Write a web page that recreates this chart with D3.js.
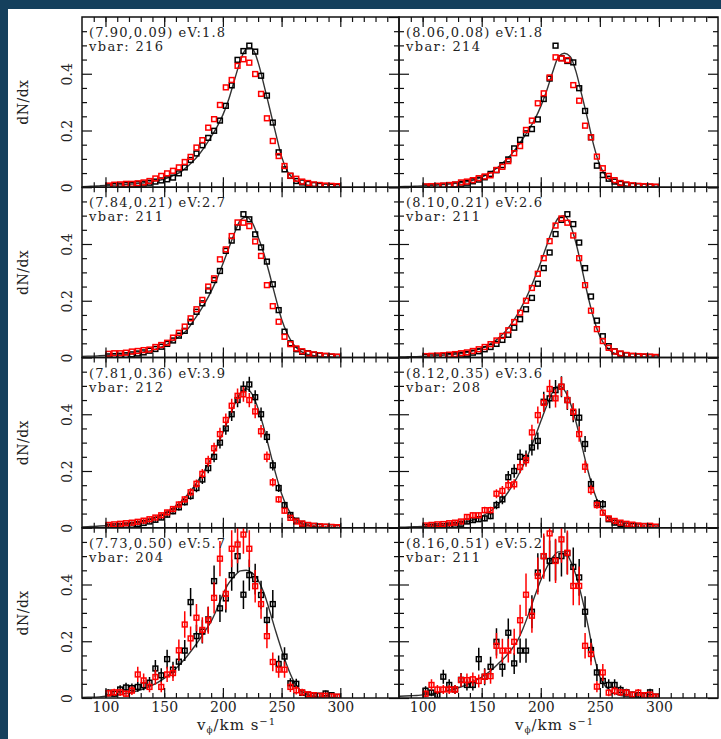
<!DOCTYPE html>
<html>
<head>
<meta charset="utf-8">
<script src="https://cdn.jsdelivr.net/npm/d3@7"></script>
<style>
  body { margin: 0; background: #15405d; }
  svg text { font-family: "DejaVu Serif", serif; fill: #222; }
</style>
</head>
<body>
<div id="chart"></div>
<script>
// velocity bin centres for the binned points (km/s)
const bins = [102.5, 107.5, 112.5, 117.5, 122.5, 127.5, 132.5, 137.5, 142.5, 147.5,
  152.5, 157.5, 162.5, 167.5, 172.5, 177.5, 182.5, 187.5, 192.5, 197.5,
  202.5, 207.5, 212.5, 217.5, 222.5, 227.5, 232.5, 237.5, 242.5, 247.5,
  252.5, 257.5, 262.5, 267.5, 272.5, 277.5, 282.5, 287.5, 292.5, 297.5];
// velocities where the model curve is sampled
const vcurve = [80, 85, 90, 95, 100, 105, 110, 115, 120, 125, 130, 135, 140, 145, 150,
  155, 160, 165, 170, 175, 180, 185, 190, 195, 200, 205, 210, 215, 220, 225,
  230, 235, 240, 245, 250, 255, 260, 265, 270, 275, 280, 285, 290, 295, 300];

const xMinorTicks = [90, 100, 110, 120, 130, 140, 150, 160, 170, 180, 190, 200, 210, 220, 230, 240, 250, 260, 270, 280, 290, 300, 310, 320, 330, 340];
const xMajorTicks = [100, 150, 200, 250, 300];
const yMinorTicks = [0.05, 0.1, 0.15, 0.25, 0.3, 0.35, 0.45, 0.5, 0.55];
const yMajorTicks = [0, 0.2, 0.4];

const titles = ["(7.90,0.09) eV:1.8", "(8.06,0.08) eV:1.8", "(7.84,0.21) eV:2.7", "(8.10,0.21) eV:2.6",
  "(7.81,0.36) eV:3.9", "(8.12,0.35) eV:3.6", "(7.73,0.50) eV:5.7", "(8.16,0.51) eV:5.2"];
const vbars = ["vbar: 216", "vbar: 214", "vbar: 211", "vbar: 211", "vbar: 212", "vbar: 208", "vbar: 204", "vbar: 211"];

// panel 1 (7.90,0.09)
const black1 = [0.003, 0.005, 0.006, 0.008, 0.009, 0.011, 0.013, 0.016, 0.02, 0.024, 0.028, 0.034, 0.049, 0.07, 0.096, 0.119, 0.148, 0.174, 0.199, 0.235,
  0.287, 0.359, 0.449, 0.48, 0.499, 0.478, 0.393, 0.323, 0.228, 0.123, 0.063, 0.04, 0.022, 0.017, 0.012, 0.008, 0.005, 0.003, 0.002, 0.001];
const red1 = [0.006, 0.009, 0.01, 0.012, 0.012, 0.014, 0.017, 0.022, 0.031, 0.04, 0.049, 0.058, 0.07, 0.089, 0.107, 0.14, 0.166, 0.21, 0.24, 0.29,
  0.352, 0.378, 0.428, 0.451, 0.439, 0.399, 0.329, 0.243, 0.163, 0.11, 0.075, 0.041, 0.03, 0.02, 0.015, 0.01, 0.008, 0.006, 0.005, 0.004];
const curve1 = [0.002, 0.003, 0.004, 0.005, 0.006, 0.007, 0.008, 0.009, 0.011, 0.012, 0.014, 0.017, 0.02, 0.024, 0.029,
  0.036, 0.045, 0.057, 0.074, 0.093, 0.117, 0.146, 0.178, 0.213, 0.255, 0.31, 0.38, 0.447, 0.487, 0.488,
  0.44, 0.36, 0.275, 0.19, 0.108, 0.056, 0.03, 0.016, 0.009, 0.005, 0.003, 0.002, 0.001, 0.001, 0.001];

// panel 2 (8.06,0.08)
const black2 = [0.002, 0.003, 0.004, 0.005, 0.007, 0.009, 0.012, 0.016, 0.021, 0.027, 0.035, 0.047, 0.06, 0.078, 0.098, 0.137, 0.167, 0.19, 0.205, 0.239,
  0.311, 0.383, 0.499, 0.455, 0.445, 0.44, 0.349, 0.269, 0.176, 0.076, 0.043, 0.03, 0.02, 0.012, 0.008, 0.005, 0.004, 0.003, 0.002, 0.001];
const red2 = [0.003, 0.004, 0.005, 0.006, 0.008, 0.01, 0.017, 0.02, 0.025, 0.032, 0.038, 0.042, 0.061, 0.072, 0.092, 0.12, 0.145, 0.202, 0.235, 0.296,
  0.331, 0.387, 0.458, 0.454, 0.448, 0.36, 0.305, 0.217, 0.176, 0.108, 0.067, 0.04, 0.025, 0.015, 0.01, 0.007, 0.005, 0.004, 0.003, 0.002];
const curve2 = [0.002, 0.003, 0.003, 0.004, 0.005, 0.006, 0.007, 0.009, 0.01, 0.012, 0.015, 0.018, 0.022, 0.028, 0.036,
  0.046, 0.059, 0.075, 0.094, 0.116, 0.142, 0.172, 0.204, 0.24, 0.285, 0.34, 0.405, 0.46, 0.472, 0.46,
  0.405, 0.32, 0.235, 0.145, 0.078, 0.04, 0.021, 0.011, 0.006, 0.003, 0.002, 0.001, 0.001, 0.001, 0.001];

// panel 3 (7.84,0.21)
const black3 = [0.004, 0.005, 0.006, 0.008, 0.011, 0.014, 0.018, 0.024, 0.03, 0.038, 0.048, 0.06, 0.077, 0.094, 0.126, 0.161, 0.191, 0.236, 0.273, 0.305,
  0.376, 0.412, 0.459, 0.505, 0.487, 0.434, 0.388, 0.338, 0.258, 0.167, 0.091, 0.05, 0.029, 0.02, 0.015, 0.01, 0.007, 0.005, 0.003, 0.002];
const red3 = [0.013, 0.015, 0.015, 0.017, 0.021, 0.023, 0.026, 0.028, 0.037, 0.044, 0.052, 0.07, 0.087, 0.109, 0.138, 0.17, 0.203, 0.25, 0.279, 0.346,
  0.381, 0.428, 0.476, 0.475, 0.463, 0.409, 0.358, 0.255, 0.181, 0.126, 0.073, 0.047, 0.032, 0.022, 0.014, 0.011, 0.008, 0.006, 0.004, 0.003];
const curve3 = [0.004, 0.005, 0.005, 0.006, 0.007, 0.008, 0.009, 0.01, 0.012, 0.014, 0.017, 0.021, 0.026, 0.033, 0.041,
  0.053, 0.066, 0.08, 0.1, 0.13, 0.16, 0.194, 0.233, 0.278, 0.33, 0.385, 0.44, 0.485, 0.495, 0.475,
  0.425, 0.365, 0.29, 0.21, 0.135, 0.083, 0.047, 0.026, 0.014, 0.008, 0.005, 0.003, 0.002, 0.001, 0.001];

// panel 4 (8.10,0.21)
const black4 = [0.003, 0.004, 0.004, 0.005, 0.006, 0.008, 0.01, 0.013, 0.017, 0.022, 0.029, 0.037, 0.048, 0.062, 0.08, 0.105, 0.135, 0.17, 0.21, 0.26,
  0.315, 0.37, 0.435, 0.485, 0.505, 0.47, 0.405, 0.315, 0.215, 0.13, 0.075, 0.04, 0.022, 0.013, 0.008, 0.005, 0.004, 0.003, 0.002, 0.001];
const red4 = [0.005, 0.006, 0.007, 0.008, 0.01, 0.012, 0.015, 0.018, 0.023, 0.029, 0.037, 0.047, 0.06, 0.076, 0.096, 0.125, 0.158, 0.2, 0.245, 0.295,
  0.35, 0.41, 0.465, 0.49, 0.475, 0.43, 0.35, 0.255, 0.165, 0.1, 0.058, 0.034, 0.021, 0.014, 0.009, 0.006, 0.005, 0.004, 0.003, 0.002];
const curve4 = [0.002, 0.002, 0.003, 0.003, 0.004, 0.005, 0.006, 0.007, 0.009, 0.011, 0.013, 0.016, 0.02, 0.026, 0.033,
  0.043, 0.055, 0.071, 0.092, 0.118, 0.15, 0.188, 0.232, 0.282, 0.336, 0.395, 0.452, 0.492, 0.5, 0.468,
  0.4, 0.31, 0.215, 0.135, 0.075, 0.04, 0.02, 0.01, 0.005, 0.003, 0.002, 0.001, 0.001, 0.001, 0.001];

// panel 5 (7.81,0.36)
const black5 = [0.004, 0.005, 0.006, 0.008, 0.01, 0.013, 0.017, 0.022, 0.028, 0.036, 0.046, 0.058, 0.072, 0.09, 0.112, 0.14, 0.17, 0.21, 0.25, 0.3,
  0.35, 0.4, 0.45, 0.49, 0.505, 0.46, 0.4, 0.32, 0.22, 0.14, 0.08, 0.045, 0.025, 0.014, 0.009, 0.006, 0.004, 0.003, 0.002, 0.001];
const red5 = [0.01, 0.012, 0.014, 0.016, 0.018, 0.021, 0.025, 0.03, 0.036, 0.044, 0.054, 0.066, 0.082, 0.1, 0.125, 0.155, 0.19, 0.235, 0.28, 0.33,
  0.38, 0.43, 0.465, 0.47, 0.45, 0.41, 0.34, 0.25, 0.16, 0.1, 0.06, 0.035, 0.022, 0.015, 0.01, 0.007, 0.005, 0.004, 0.003, 0.002];
const curve5 = [0.003, 0.004, 0.005, 0.006, 0.007, 0.008, 0.01, 0.012, 0.014, 0.017, 0.021, 0.026, 0.032, 0.04, 0.05,
  0.062, 0.077, 0.095, 0.117, 0.143, 0.173, 0.207, 0.245, 0.288, 0.335, 0.385, 0.435, 0.475, 0.49, 0.47,
  0.42, 0.35, 0.27, 0.19, 0.12, 0.07, 0.038, 0.02, 0.011, 0.006, 0.003, 0.002, 0.001, 0.001, 0.001];
const blackErr5 = [0.003, 0.003, 0.003, 0.004, 0.004, 0.005, 0.005, 0.006, 0.007, 0.008, 0.009, 0.01, 0.011, 0.012, 0.013, 0.015, 0.016, 0.018, 0.019, 0.021,
  0.022, 0.024, 0.025, 0.026, 0.027, 0.025, 0.024, 0.021, 0.018, 0.014, 0.011, 0.008, 0.006, 0.005, 0.004, 0.003, 0.003, 0.002, 0.002, 0.001];
const redErr5 = [0.004, 0.004, 0.005, 0.005, 0.005, 0.006, 0.006, 0.007, 0.008, 0.008, 0.009, 0.01, 0.011, 0.012, 0.014, 0.015, 0.017, 0.019, 0.02, 0.022,
  0.023, 0.025, 0.026, 0.026, 0.025, 0.024, 0.022, 0.019, 0.015, 0.012, 0.01, 0.007, 0.006, 0.005, 0.004, 0.003, 0.003, 0.002, 0.002, 0.002];

// panel 6 (8.12,0.35)
const black6 = [0.003, 0.004, 0.005, 0.006, 0.008, 0.01, 0.014, 0.022, 0.027, 0.03, 0.033, 0.041, 0.08, 0.1, 0.178, 0.2, 0.25, 0.246, 0.283, 0.306,
  0.444, 0.456, 0.485, 0.497, 0.45, 0.405, 0.388, 0.295, 0.154, 0.086, 0.083, 0.03, 0.018, 0.012, 0.008, 0.006, 0.005, 0.006, 0.003, 0.002];
const red6 = [0.008, 0.01, 0.012, 0.013, 0.016, 0.018, 0.022, 0.038, 0.044, 0.044, 0.062, 0.062, 0.12, 0.13, 0.15, 0.153, 0.214, 0.238, 0.336, 0.397,
  0.44, 0.489, 0.456, 0.497, 0.45, 0.409, 0.33, 0.215, 0.133, 0.08, 0.053, 0.033, 0.024, 0.018, 0.014, 0.011, 0.008, 0.006, 0.007, 0.004];
const curve6 = [0.002, 0.002, 0.003, 0.004, 0.005, 0.006, 0.007, 0.008, 0.01, 0.012, 0.015, 0.019, 0.024, 0.031, 0.04,
  0.052, 0.067, 0.087, 0.112, 0.142, 0.178, 0.218, 0.265, 0.318, 0.375, 0.43, 0.478, 0.5, 0.485, 0.44,
  0.37, 0.285, 0.2, 0.128, 0.075, 0.042, 0.022, 0.012, 0.006, 0.003, 0.002, 0.001, 0.001, 0.001, 0.001];
const blackErr6 = [0.003, 0.003, 0.004, 0.004, 0.005, 0.005, 0.006, 0.008, 0.009, 0.009, 0.01, 0.011, 0.015, 0.017, 0.022, 0.024, 0.026, 0.026, 0.028, 0.03,
  0.035, 0.035, 0.036, 0.037, 0.035, 0.033, 0.032, 0.028, 0.02, 0.015, 0.015, 0.009, 0.007, 0.005, 0.004, 0.004, 0.003, 0.004, 0.003, 0.002];
const redErr6 = [0.004, 0.005, 0.005, 0.005, 0.006, 0.006, 0.007, 0.009, 0.01, 0.01, 0.012, 0.012, 0.016, 0.017, 0.018, 0.018, 0.022, 0.023, 0.027, 0.03,
  0.031, 0.033, 0.032, 0.034, 0.032, 0.03, 0.027, 0.022, 0.017, 0.013, 0.011, 0.009, 0.007, 0.006, 0.005, 0.005, 0.004, 0.004, 0.004, 0.003];

// panel 7 (7.73,0.50)
const black7 = [0.019, 0.015, 0.03, 0.037, 0.035, 0.039, 0.045, 0.054, 0.104, 0.08, 0.137, 0.1, 0.128, 0.167, 0.338, 0.218, 0.234, 0.277, 0.412, 0.316,
  0.351, 0.433, 0.5, 0.364, 0.433, 0.419, 0.363, 0.275, 0.331, 0.12, 0.146, 0.052, 0.05, 0.018, 0.012, 0.008, 0.008, 0.016, 0.01, 0.004];
const red7 = [0.017, 0.02, 0.02, 0.015, 0.026, 0.083, 0.062, 0.039, 0.074, 0.039, 0.083, 0.088, 0.168, 0.259, 0.21, 0.283, 0.24, 0.274, 0.353, 0.491,
  0.367, 0.526, 0.541, 0.576, 0.526, 0.394, 0.331, 0.218, 0.127, 0.1, 0.1, 0.039, 0.027, 0.02, 0.013, 0.01, 0.008, 0.008, 0.006, 0.005];
const curve7 = [0.002, 0.003, 0.003, 0.004, 0.006, 0.008, 0.011, 0.014, 0.018, 0.023, 0.029, 0.036, 0.045, 0.056, 0.069,
  0.085, 0.104, 0.126, 0.15, 0.177, 0.206, 0.237, 0.27, 0.315, 0.365, 0.405, 0.43, 0.448, 0.45, 0.44,
  0.415, 0.37, 0.305, 0.235, 0.17, 0.11, 0.062, 0.032, 0.016, 0.008, 0.004, 0.002, 0.001, 0.001, 0.001];
const blackErr7 = [0.012, 0.01, 0.015, 0.017, 0.016, 0.017, 0.018, 0.02, 0.03, 0.025, 0.033, 0.028, 0.032, 0.037, 0.05, 0.04, 0.042, 0.045, 0.055, 0.048,
  0.05, 0.055, 0.058, 0.05, 0.055, 0.054, 0.05, 0.045, 0.05, 0.03, 0.033, 0.018, 0.018, 0.01, 0.008, 0.007, 0.007, 0.01, 0.008, 0.005];
const redErr7 = [0.012, 0.013, 0.013, 0.011, 0.015, 0.027, 0.024, 0.019, 0.026, 0.019, 0.027, 0.028, 0.038, 0.047, 0.042, 0.048, 0.045, 0.048, 0.055, 0.062,
  0.055, 0.065, 0.066, 0.068, 0.065, 0.057, 0.052, 0.043, 0.033, 0.029, 0.029, 0.018, 0.015, 0.013, 0.01, 0.009, 0.008, 0.008, 0.007, 0.006];

// panel 8 (8.16,0.51)
const black8 = [0.026, 0.019, 0.01, 0.075, 0.046, 0.03, 0.064, 0.046, 0.046, 0.137, 0.075, 0.11, 0.198, 0.11, 0.23, 0.122, 0.167, 0.167, 0.304, 0.442,
  0.5, 0.483, 0.486, 0.5, 0.51, 0.462, 0.425, 0.304, 0.169, 0.09, 0.06, 0.046, 0.046, 0.028, 0.02, 0.012, 0.01, 0.008, 0.02, 0.005];
const red8 = [0.015, 0.046, 0.03, 0.03, 0.03, 0.03, 0.063, 0.063, 0.066, 0.06, 0.075, 0.077, 0.184, 0.167, 0.167, 0.198, 0.274, 0.364, 0.29, 0.43,
  0.5, 0.58, 0.483, 0.559, 0.512, 0.395, 0.395, 0.184, 0.155, 0.04, 0.09, 0.019, 0.025, 0.02, 0.019, 0.012, 0.019, 0.01, 0.012, 0.005];
const curve8 = [0.006, 0.007, 0.008, 0.009, 0.011, 0.013, 0.016, 0.02, 0.025, 0.03, 0.036, 0.043, 0.052, 0.062, 0.074,
  0.088, 0.105, 0.125, 0.145, 0.17, 0.2, 0.245, 0.3, 0.36, 0.415, 0.46, 0.495, 0.515, 0.515, 0.485,
  0.43, 0.35, 0.255, 0.15, 0.075, 0.04, 0.022, 0.012, 0.007, 0.004, 0.003, 0.002, 0.001, 0.001, 0.001];
const blackErr8 = [0.015, 0.013, 0.01, 0.025, 0.02, 0.016, 0.024, 0.02, 0.02, 0.04, 0.03, 0.035, 0.048, 0.035, 0.05, 0.037, 0.043, 0.043, 0.058, 0.068,
  0.072, 0.072, 0.072, 0.072, 0.073, 0.068, 0.065, 0.055, 0.04, 0.03, 0.025, 0.02, 0.02, 0.016, 0.013, 0.01, 0.009, 0.008, 0.013, 0.006];
const redErr8 = [0.012, 0.02, 0.016, 0.016, 0.016, 0.016, 0.023, 0.023, 0.024, 0.023, 0.026, 0.027, 0.045, 0.042, 0.042, 0.046, 0.055, 0.075, 0.06, 0.065,
  0.08, 0.085, 0.078, 0.082, 0.078, 0.068, 0.068, 0.045, 0.04, 0.02, 0.03, 0.013, 0.015, 0.013, 0.013, 0.01, 0.013, 0.009, 0.01, 0.006];

const panels = [
  { black: black1, red: red1, curve: curve1 },
  { black: black2, red: red2, curve: curve2 },
  { black: black3, red: red3, curve: curve3 },
  { black: black4, red: red4, curve: curve4 },
  { black: black5, red: red5, curve: curve5, bErr: blackErr5, rErr: redErr5 },
  { black: black6, red: red6, curve: curve6, bErr: blackErr6, rErr: redErr6 },
  { black: black7, red: red7, curve: curve7, bErr: blackErr7, rErr: redErr7 },
  { black: black8, red: red8, curve: curve8, bErr: blackErr8, rErr: redErr8 }
];

const W = 721, H = 739;
const colX = [[82, 399], [399, 718]];
const top0 = 17, ph = 170.25;

const svg = d3.select("#chart").append("svg").attr("width", W).attr("height", H);
svg.append("rect").attr("width", W).attr("height", H).attr("fill", "#15405d");
svg.append("rect").attr("x", 8).attr("y", 9).attr("width", W - 8).attr("height", H - 9).attr("fill", "#fff");

const defs = svg.append("defs");

function styleAxis(g) {
  g.select(".domain").remove();
  g.attr("font-family", null).attr("font-size", null);
  g.selectAll("line").attr("stroke", "#111").attr("stroke-width", 1.2);
}

panels.forEach((p, i) => {
  const col = i % 2, row = Math.floor(i / 2);
  const x0 = colX[col][0], x1 = colX[col][1];
  const yb = top0 + ph * (row + 1), yt = top0 + ph * row;
  const x = d3.scaleLinear().domain([80, 350]).range([x0, x1]);
  const y = d3.scaleLinear().domain([0, 0.6]).range([yb, yt]);
  const g = svg.append("g");

  defs.append("clipPath").attr("id", "clip" + i)
    .append("rect").attr("x", x0).attr("y", yt).attr("width", x1 - x0).attr("height", yb - yt);
  const plot = g.append("g").attr("clip-path", "url(#clip" + i + ")");

  // model curve
  const line = d3.line().x((d, k) => x(vcurve[k])).y(d => y(d)).curve(d3.curveMonotoneX);
  plot.append("path").datum(p.curve).attr("d", line)
    .attr("fill", "none").attr("stroke", "#333").attr("stroke-width", 1.4);

  // points with error bars
  [["black", "#000", p.bErr], ["red", "#ff0000", p.rErr]].forEach(([key, colour, err]) => {
    const s = plot.append("g");
    if (err) {
      s.selectAll("line").data(p[key]).enter().append("line")
        .attr("x1", (d, k) => x(bins[k])).attr("x2", (d, k) => x(bins[k]))
        .attr("y1", (d, k) => y(d - err[k])).attr("y2", (d, k) => y(d + err[k]))
        .attr("stroke", colour).attr("stroke-width", 1.5);
    }
    s.selectAll("rect").data(p[key]).enter().append("rect")
      .attr("x", (d, k) => x(bins[k]) - 2.4).attr("y", d => y(d) - 2.4)
      .attr("width", 4.8).attr("height", 4.8)
      .attr("fill", "none").attr("stroke", colour).attr("stroke-width", 1.5);
  });

  // ticks on all four sides, pointing in
  const bottom = g.append("g").attr("transform", `translate(0,${yb})`);
  bottom.append("g").call(d3.axisBottom(x).tickValues(xMinorTicks).tickSize(-5).tickFormat("")).call(styleAxis);
  bottom.append("g").call(d3.axisBottom(x).tickValues(xMajorTicks).tickSize(-10).tickPadding(4)
    .tickFormat(row === 3 ? d3.format("d") : "")).call(styleAxis)
    .selectAll("text").attr("font-size", 14).attr("dy", "0.71em");
  const topAx = g.append("g").attr("transform", `translate(0,${yt})`);
  topAx.append("g").call(d3.axisTop(x).tickValues(xMinorTicks).tickSize(-5).tickFormat("")).call(styleAxis);
  topAx.append("g").call(d3.axisTop(x).tickValues(xMajorTicks).tickSize(-10).tickFormat("")).call(styleAxis);

  const leftAx = g.append("g").attr("transform", `translate(${x0},0)`);
  leftAx.append("g").call(d3.axisLeft(y).tickValues(yMinorTicks).tickSize(-5).tickFormat("")).call(styleAxis);
  leftAx.append("g").call(d3.axisLeft(y).tickValues(yMajorTicks).tickSize(-10)
    .tickFormat(col === 0 ? (d => d === 0 ? "0" : d3.format(".1f")(d)) : "")).call(styleAxis)
    .selectAll("text").attr("font-size", 14).attr("transform", "rotate(-90)")
    .attr("x", 0).attr("y", -10).attr("dy", 0).attr("text-anchor", "middle");
  const rightAx = g.append("g").attr("transform", `translate(${x1},0)`);
  rightAx.append("g").call(d3.axisRight(y).tickValues(yMinorTicks).tickSize(-5).tickFormat("")).call(styleAxis);
  rightAx.append("g").call(d3.axisRight(y).tickValues(yMajorTicks.concat([0.6])).tickSize(-10).tickFormat("")).call(styleAxis);

  g.append("rect").attr("x", x0).attr("y", yt).attr("width", x1 - x0).attr("height", yb - yt)
    .attr("fill", "none").attr("stroke", "#111").attr("stroke-width", 1.5);

  // annotations
  g.append("text").attr("x", x0 + 7).attr("y", yt + 20).attr("font-size", 13)
    .attr("textLength", 136).attr("lengthAdjust", "spacing").text(titles[i]);
  g.append("text").attr("x", x0 + 7).attr("y", yt + 34).attr("font-size", 13)
    .attr("textLength", 74).attr("lengthAdjust", "spacing").text(vbars[i]);

  if (col === 0) {
    g.append("text").attr("transform", `translate(28,${(yt + yb) / 2}) rotate(-90)`)
      .attr("text-anchor", "middle").attr("font-size", 14).attr("letter-spacing", 0.5).text("dN/dx");
  }
  if (row === 3) {
    const t = g.append("text").attr("x", (x0 + x1) / 2 - 4).attr("y", 730)
      .attr("text-anchor", "middle").attr("font-size", 15).attr("letter-spacing", 1);
    t.append("tspan").text("v");
    t.append("tspan").attr("dy", 3).attr("font-size", 9).text("\u03d5");
    t.append("tspan").attr("dy", -3).text("/km s");
    t.append("tspan").attr("dy", -5).attr("font-size", 10).text("\u22121");
  }
});
</script>
</body>
</html>
